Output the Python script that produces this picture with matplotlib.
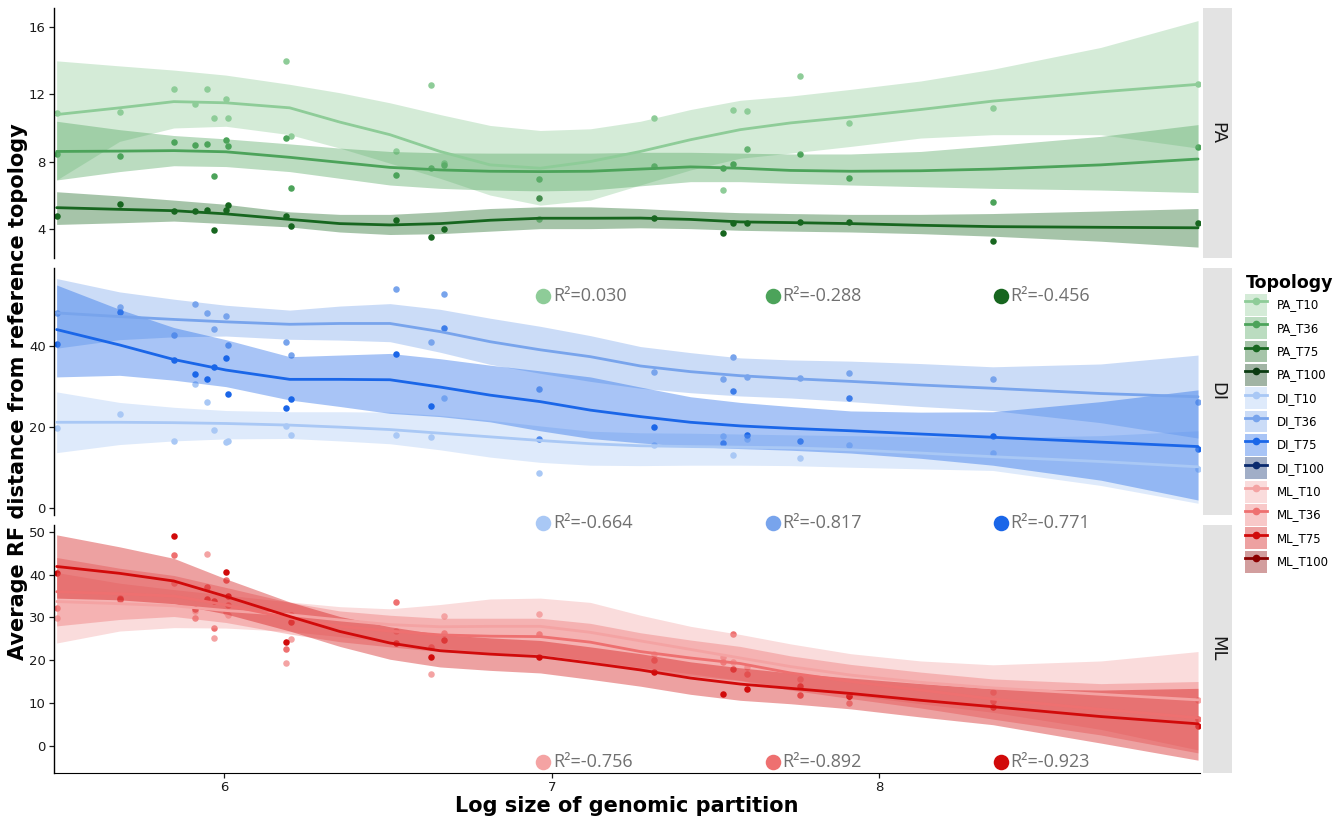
import numpy as np
import matplotlib
matplotlib.use('Agg')
import matplotlib.pyplot as plt
from matplotlib.patches import Patch
from matplotlib.lines import Line2D
from matplotlib.legend_handler import HandlerTuple

# shared x positions of the genomic partitions (log size)
part_x = [5.488, 5.683, 5.846, 5.910, 5.946, 5.968, 6.005, 6.011, 6.188, 6.203, 6.524,
          6.631, 6.671, 6.962, 7.313, 7.524, 7.555, 7.598, 7.757, 7.907, 8.347, 8.974]

# points
pa_t10 = [10.9, 10.97, 12.3, 11.4, 12.3, 10.6, 11.7, 10.6, 14.0, 9.5, 8.6, 12.55, 7.9, 4.6, 10.6, 6.3, 11.1, 11.0, 13.1, 10.3, 11.2, 12.6]
pa_t36 = [8.43, 8.33, 9.19, 9.0, 9.07, 7.16, 9.31, 8.93, 9.42, 6.41, 7.2, 7.64, 7.81, 6.98, 7.75, 7.6, 7.86, 8.75, 8.47, 7.02, 5.57, 8.87]
pa_t75 = [4.76, 5.49, 5.04, 5.07, 5.13, 3.94, 5.13, 5.43, 4.76, 4.18, 4.5, 3.49, 3.98, 5.83, 4.66, 3.76, 4.32, 4.36, 4.42, 4.42, 3.25, 4.36]
di_t10 = [19.75, 23.1, 16.5, 30.5, 26.0, 19.3, 16.2, 16.5, 20.2, 18.0, 17.9, 17.5, 27.0, 8.6, 15.5, 17.7, 13.1, 16.9, 12.3, 15.5, 13.4, 9.5]
di_t36 = [48.0, 49.6, 42.7, 50.2, 48.1, 44.2, 47.4, 40.2, 41.0, 37.8, 53.9, 41.0, 52.8, 29.2, 33.5, 31.7, 37.2, 32.4, 32.1, 33.3, 31.7, 26.2]
di_t75 = [40.4, 48.4, 36.5, 33.0, 31.7, 34.8, 37.0, 28.2, 24.7, 26.9, 37.9, 25.1, 44.3, 16.9, 20.0, 16.1, 28.8, 17.95, 16.5, 27.2, 17.7, 14.5]
ml_t10 = [29.95, 34.0, 38.1, 31.5, 44.9, 25.2, 31.3, 30.5, 19.4, 25.0, 26.8, 16.8, 30.4, 30.8, 21.4, 20.8, 19.6, 18.5, 15.6, 9.9, 12.6, 10.7]
ml_t36 = [32.3, 34.5, 44.5, 29.95, 37.1, 27.4, 38.8, 33.0, 22.6, 30.6, 33.6, 23.0, 26.3, 26.0, 20.0, 19.5, 26.1, 16.8, 11.9, 11.6, 10.5, 6.2]
ml_t75 = [40.3, 34.3, 49.1, 31.9, 34.3, 33.9, 40.6, 35.1, 24.2, 28.9, 23.9, 20.7, 24.8, 20.8, 17.2, 12.1, 18.0, 13.3, 14.0, 11.5, 9.1, 4.7]

# smoothed fits (loess line and band) read at these x positions
fit_x = [5.488, 5.680, 5.846, 6.005, 6.200, 6.353, 6.506, 6.659, 6.812, 6.965,
         7.118, 7.271, 7.424, 7.576, 7.729, 7.913, 8.127, 8.347, 8.677, 8.974]

pa_t10_fit = [10.8, 11.2, 11.57, 11.5, 11.2, 10.35, 9.6, 8.6, 7.8, 7.6, 8.0, 8.6, 9.3, 9.9, 10.3, 10.65, 11.1, 11.6, 12.15, 12.6]
pa_t10_hi = [14.0, 13.7, 13.45, 13.15, 12.6, 12.1, 11.5, 10.8, 10.15, 9.85, 9.95, 10.4, 11.1, 11.65, 11.9, 12.3, 12.8, 13.5, 14.8, 16.4]
pa_t10_lo = [6.9, 9.2, 10.0, 10.1, 9.6, 8.8, 7.9, 7.0, 6.0, 5.4, 5.7, 6.6, 7.5, 8.2, 8.5, 8.9, 9.4, 9.6, 9.6, 8.8]
pa_t36_fit = [8.6, 8.62, 8.65, 8.58, 8.25, 7.95, 7.65, 7.5, 7.42, 7.4, 7.42, 7.55, 7.68, 7.6, 7.47, 7.42, 7.45, 7.55, 7.8, 8.15]
pa_t36_hi = [10.4, 9.9, 9.55, 9.35, 9.05, 8.8, 8.6, 8.52, 8.5, 8.5, 8.5, 8.55, 8.55, 8.5, 8.45, 8.45, 8.6, 8.95, 9.5, 10.2]
pa_t36_lo = [6.9, 7.4, 7.75, 7.7, 7.4, 7.0, 6.6, 6.4, 6.3, 6.25, 6.3, 6.55, 6.8, 6.8, 6.7, 6.6, 6.5, 6.4, 6.3, 6.15]
pa_t75_fit = [5.25, 5.15, 5.07, 4.88, 4.55, 4.3, 4.22, 4.3, 4.5, 4.62, 4.62, 4.63, 4.55, 4.4, 4.36, 4.3, 4.2, 4.12, 4.08, 4.05]
pa_t75_hi = [6.2, 5.95, 5.7, 5.45, 5.0, 4.85, 4.85, 5.0, 5.2, 5.3, 5.3, 5.2, 5.05, 4.95, 4.9, 4.85, 4.85, 4.9, 5.05, 5.2]
pa_t75_lo = [4.25, 4.35, 4.45, 4.3, 4.1, 3.8, 3.65, 3.7, 3.85, 4.0, 4.0, 4.05, 4.0, 3.9, 3.85, 3.8, 3.7, 3.55, 3.25, 2.9]

di_t10_fit = [21.1, 21.1, 21.0, 20.8, 20.4, 19.9, 19.3, 18.4, 17.5, 16.6, 15.8, 15.3, 15.1, 14.95, 14.8, 14.3, 13.5, 12.6, 11.4, 10.1]
di_t10_hi = [28.6, 26.0, 24.8, 24.0, 23.7, 23.7, 23.6, 22.8, 21.6, 20.2, 18.9, 18.5, 18.4, 18.2, 18.0, 17.8, 17.5, 17.3, 17.8, 19.0]
di_t10_lo = [13.6, 15.6, 16.5, 17.0, 17.1, 16.5, 15.8, 14.3, 12.5, 11.2, 10.5, 10.4, 10.5, 10.5, 10.4, 10.0, 9.6, 9.2, 5.5, 1.1]
di_t36_fit = [48.1, 47.2, 46.5, 45.9, 45.3, 45.5, 45.5, 43.5, 41.0, 39.0, 37.3, 35.0, 33.6, 32.6, 31.9, 31.2, 30.3, 29.5, 28.2, 27.4]
di_t36_hi = [56.6, 53.3, 51.5, 50.0, 48.8, 49.8, 50.4, 49.0, 46.8, 44.8, 42.5, 39.8, 38.3, 37.0, 36.5, 36.2, 35.6, 34.8, 35.5, 37.7]
di_t36_lo = [39.4, 41.5, 42.2, 42.4, 41.6, 41.4, 41.0, 38.4, 35.4, 33.2, 31.2, 29.5, 28.4, 27.6, 27.1, 26.2, 25.0, 24.0, 21.0, 17.2]
di_t75_fit = [44.0, 40.2, 36.6, 34.0, 31.7, 31.7, 31.6, 29.8, 27.8, 26.2, 24.1, 22.5, 21.1, 20.2, 19.6, 19.0, 18.2, 17.4, 16.2, 15.1]
di_t75_hi = [55.0, 49.0, 44.5, 41.5, 37.3, 37.7, 38.1, 36.8, 35.2, 33.8, 32.3, 29.8, 27.4, 26.0, 25.0, 23.9, 23.6, 23.7, 26.2, 29.1]
di_t75_lo = [32.3, 32.7, 31.5, 29.9, 26.6, 25.0, 23.3, 22.5, 21.2, 19.0, 17.1, 16.0, 15.1, 14.6, 14.2, 13.5, 12.2, 10.5, 6.8, 1.9]

ml_t10_fit = [33.7, 33.2, 32.7, 31.6, 30.6, 29.4, 28.3, 27.8, 27.9, 27.9, 26.5, 24.5, 22.5, 20.5, 18.5, 16.5, 14.8, 13.5, 12.0, 10.7]
ml_t10_hi = [40.5, 38.0, 36.5, 35.2, 33.6, 32.5, 32.0, 33.0, 34.3, 34.5, 33.5, 30.5, 27.9, 26.0, 23.8, 21.5, 19.8, 18.9, 19.8, 22.0]
ml_t10_lo = [24.0, 26.8, 27.6, 27.5, 26.7, 25.5, 24.2, 22.8, 21.8, 21.4, 19.8, 18.3, 16.8, 15.3, 13.6, 11.8, 9.8, 7.8, 3.8, -1.0]
ml_t36_fit = [36.0, 35.5, 35.0, 32.9, 29.8, 27.9, 26.8, 25.9, 25.6, 25.5, 24.2, 22.0, 20.5, 19.2, 17.0, 15.0, 13.0, 10.9, 8.5, 6.5]
ml_t36_hi = [44.0, 41.5, 39.8, 37.0, 33.5, 31.5, 30.5, 29.8, 29.8, 29.8, 28.6, 26.4, 24.7, 23.2, 21.0, 19.0, 17.2, 15.6, 14.5, 15.0]
ml_t36_lo = [28.0, 29.5, 30.2, 28.8, 26.1, 24.3, 23.1, 22.0, 21.4, 21.2, 19.8, 17.6, 16.3, 15.2, 13.0, 11.0, 8.8, 6.2, 2.5, -1.7]
ml_t75_fit = [41.9, 40.3, 38.5, 34.9, 30.2, 26.7, 24.0, 22.2, 21.4, 20.8, 19.3, 17.7, 15.8, 14.4, 13.4, 12.2, 10.6, 9.1, 6.8, 5.1]
ml_t75_hi = [49.3, 46.5, 43.8, 39.0, 33.6, 30.2, 27.8, 26.0, 25.2, 24.6, 23.1, 21.5, 19.6, 18.2, 17.0, 15.8, 14.5, 13.3, 13.0, 13.4]
ml_t75_lo = [34.5, 34.1, 33.2, 30.8, 26.8, 23.2, 20.2, 18.4, 17.6, 17.0, 15.5, 13.9, 12.0, 10.6, 9.8, 8.6, 6.7, 4.9, 0.6, -3.4]

topologies = ['PA_T10', 'PA_T36', 'PA_T75', 'PA_T100',
              'DI_T10', 'DI_T36', 'DI_T75', 'DI_T100',
              'ML_T10', 'ML_T36', 'ML_T75', 'ML_T100']
topo_colors = ['#8ecc98', '#4ca35a', '#17661f', '#0a3a10',
               '#a9c8f5', '#78a4ec', '#1a66e8', '#0a2a6e',
               '#f4a3a3', '#ee7070', '#d10a0a', '#8b0000']

r2_labels = ['R²=0.030', 'R²=-0.288', 'R²=-0.456',
             'R²=-0.664', 'R²=-0.817', 'R²=-0.771',
             'R²=-0.756', 'R²=-0.892', 'R²=-0.923']
r2_x = [6.974, 7.675, 8.372]

panels = ['PA', 'DI', 'ML']
panel_points = [[pa_t10, pa_t36, pa_t75], [di_t10, di_t36, di_t75], [ml_t10, ml_t36, ml_t75]]
panel_fits = [[(pa_t10_fit, pa_t10_lo, pa_t10_hi), (pa_t36_fit, pa_t36_lo, pa_t36_hi), (pa_t75_fit, pa_t75_lo, pa_t75_hi)],
              [(di_t10_fit, di_t10_lo, di_t10_hi), (di_t36_fit, di_t36_lo, di_t36_hi), (di_t75_fit, di_t75_lo, di_t75_hi)],
              [(ml_t10_fit, ml_t10_lo, ml_t10_hi), (ml_t36_fit, ml_t36_lo, ml_t36_hi), (ml_t75_fit, ml_t75_lo, ml_t75_hi)]]
panel_ylim = [(2.25, 17.15), (-1.8, 59.2), (-6.4, 51.6)]
panel_yticks = [[4, 8, 12, 16], [0, 20, 40], [0, 10, 20, 30, 40, 50]]

W, H = 1344, 823
fig = plt.figure(figsize=(W / 100, H / 100), dpi=100)
plt.rcParams['font.family'] = ['DejaVu Sans']

left, right = 54, 1200
tops = [8, 268, 525]
bottoms = [258, 515, 773]
axes = []
for p in range(3):
    ax = fig.add_axes([left / W, 1 - bottoms[p] / H, (right - left) / W, (bottoms[p] - tops[p]) / H])
    axes.append(ax)
    for s in range(3):
        c = topo_colors[p * 4 + s]
        ax.scatter(part_x, panel_points[p][s], s=22, color=c, zorder=2, linewidths=0)
    for s in range(3):
        c = topo_colors[p * 4 + s]
        fit, lo, hi = panel_fits[p][s]
        ax.fill_between(fit_x, lo, hi, color=c, alpha=0.38, linewidth=0, zorder=3)
        ax.plot(fit_x, fit, color=c, linewidth=2.0, zorder=4, solid_capstyle='round')
    ax.set_xlim(5.48, 8.98)
    ax.set_ylim(*panel_ylim[p])
    ax.set_yticks(panel_yticks[p])
    ax.set_xticks([6, 7, 8])
    for sp in ['top', 'right']:
        ax.spines[sp].set_visible(False)
    ax.spines['left'].set_linewidth(1.0)
    ax.tick_params(axis='both', labelsize=9.5, colors='#1a1a1a', length=3.5, width=0.9, pad=2.5)
    if p < 2:
        ax.spines['bottom'].set_visible(False)
        ax.tick_params(axis='x', bottom=False, labelbottom=False)
    ax.patch.set_alpha(0)
    # facet strip
    sx = fig.add_axes([1203 / W, 1 - bottoms[p] / H, 29 / W, (bottoms[p] - tops[p]) / H])
    sx.set_facecolor('#e3e3e3')
    sx.set_xticks([])
    sx.set_yticks([])
    for sp in sx.spines.values():
        sp.set_visible(False)
    sx.text(0.5, 0.5, panels[p], rotation=-90, ha='center', va='center', fontsize=13, color='#1a1a1a',
            transform=sx.transAxes)

# R² annotations
r2_rows = [(axes[1], 52.3), (axes[2], 52.1), (axes[2], -3.8)]
for p in range(3):
    ax, yv = r2_rows[p]
    for s in range(3):
        c = topo_colors[p * 4 + s]
        ax.scatter([r2_x[s]], [yv], s=125, color=c, zorder=6, clip_on=False, linewidths=0)
        ax.text(r2_x[s] + 0.03, yv, r2_labels[p * 3 + s], fontsize=13, color='#707070',
                va='center', ha='left', zorder=6, clip_on=False, family='Open Sans')

fig.text(18 / W, 1 - 392 / H, 'Average RF distance from reference topology', rotation=90,
         ha='center', va='center', fontsize=15, fontweight='bold')
fig.text(627 / W, 1 - 806 / H, 'Log size of genomic partition', ha='center', va='center',
         fontsize=15, fontweight='bold')

# legend
handles = []
for c in topo_colors:
    handles.append((Patch(facecolor=c, alpha=0.38, edgecolor='none'),
                    Line2D([], [], color=c, linewidth=2.0, marker='o', markersize=4.5)))
leg = fig.legend(handles, topologies, handler_map={tuple: HandlerTuple(ndivide=1, pad=0)},
                 loc='upper left', bbox_to_anchor=(1236 / W, 1 - 265 / H), frameon=False,
                 fontsize=8.5, title='Topology', title_fontsize=12.5, handlelength=1.86,
                 handleheight=2.48, labelspacing=0.12, handletextpad=0.8, borderpad=0.3)
leg.get_title().set_fontweight('bold')
leg._legend_box.align = 'left'

fig.savefig('out.png', dpi=100)
